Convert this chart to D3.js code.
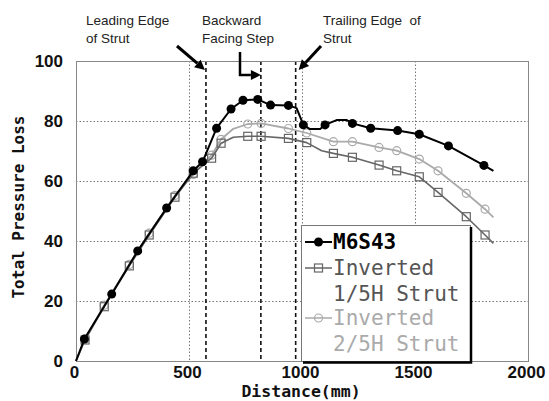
<!DOCTYPE html>
<html><head><meta charset="utf-8">
<script src="https://cdn.jsdelivr.net/npm/d3@7"></script>
<style>
html,body{margin:0;padding:0;background:#fff;}
svg{display:block;}
</style>
</head><body>
<svg id="chart" width="549" height="401"></svg>
<script>
// ---------- data ----------
const xTicks = [0, 500, 1000, 1500, 2000];
const yTicks = [0, 20, 40, 60, 80, 100];
const gridX = [500, 1000, 1500];
const gridY = [20, 40, 60, 80];

// M6S43 (marked = 1 shows a marker)
const m6Dist   = [0, 37, 158, 273, 401, 519, 560, 622, 686, 739, 804, 861, 940, 976, 1006, 1035, 1080, 1102, 1153, 1198, 1223, 1304, 1423, 1519, 1648, 1805, 1847];
const m6Loss   = [0, 7.3, 22.3, 36.7, 51, 63.4, 66.4, 77.6, 84, 86.9, 87.2, 85.3, 85.2, 84.3, 78.7, 77.3, 77.3, 78.7, 80.3, 80.3, 79.2, 77.6, 76.8, 75.6, 71.7, 65.2, 63.4];
const m6Marked = [0, 1, 1, 1, 1, 1, 1, 1, 1, 1, 1, 1, 1, 0, 1, 0, 0, 1, 0, 0, 1, 1, 1, 1, 1, 1, 0];

// Inverted 1/5H Strut
const inv1Dist   = [0, 40, 125, 236, 324, 438, 519, 600, 642, 696, 760, 819, 940, 1021, 1087, 1139, 1223, 1341, 1419, 1519, 1602, 1727, 1810, 1847];
const inv1Loss   = [0, 7, 18.1, 31.7, 42, 54.6, 62.6, 67.6, 72.6, 74.6, 74.9, 74.9, 74.2, 72.8, 70.1, 69.2, 67.9, 65.3, 63.4, 61.4, 56.2, 48.1, 42, 39.2];
const inv1Marked = [0, 1, 1, 1, 1, 1, 1, 1, 1, 0, 1, 1, 1, 1, 0, 1, 1, 1, 1, 1, 1, 1, 1, 0];

// Inverted 2/5H Strut
const inv2Dist   = [0, 40, 125, 236, 324, 438, 519, 600, 642, 696, 760, 819, 940, 1021, 1139, 1223, 1341, 1419, 1519, 1602, 1727, 1810, 1847];
const inv2Loss   = [0, 7.3, 18.6, 32.2, 42.6, 55.2, 62.2, 68.6, 73.9, 77.4, 79, 79.2, 77.5, 76, 73.1, 73.1, 71.2, 70.1, 67.3, 63.4, 55.9, 50.6, 47.9];
const inv2Marked = [0, 1, 1, 1, 1, 1, 1, 1, 1, 0, 1, 1, 1, 1, 1, 1, 1, 1, 1, 1, 1, 1, 0];

const legendLabels = [["M6S43"], ["Inverted", "1/5H Strut"], ["Inverted", "2/5H Strut"]];

// annotation positions (mm) of the vertical dashed markers
const edgeNames = ["Leading Edge", "Backward Step", "Trailing Edge"];
const edgeDist  = [575, 818, 972];

// ---------- chart ----------
const svg = d3.select("#chart");
const x = d3.scaleLinear().domain([0, 2000]).range([76, 528]);
const y = d3.scaleLinear().domain([0, 100]).range([361, 61]);

// gridlines
const g = svg.append("g");
g.selectAll(".gx").data(gridX).enter().append("line")
  .attr("x1", d => x(d) + 0.5).attr("x2", d => x(d) + 0.5)
  .attr("y1", y(100)).attr("y2", y(0))
  .attr("stroke", "#777").attr("stroke-width", 1).attr("stroke-dasharray", "1.5,2");
g.selectAll(".gy").data(gridY).enter().append("line")
  .attr("x1", x(0)).attr("x2", x(2000))
  .attr("y1", d => y(d) + 0.5).attr("y2", d => y(d) + 0.5)
  .attr("stroke", "#777").attr("stroke-width", 1).attr("stroke-dasharray", "1.5,2");

// dashed edge lines
g.selectAll(".edge").data(edgeDist).enter().append("line")
  .attr("x1", d => x(d)).attr("x2", d => x(d))
  .attr("y1", y(100)).attr("y2", y(0))
  .attr("stroke", "#111").attr("stroke-width", 1.6).attr("stroke-dasharray", "4,3");

// frame
svg.append("rect")
  .attr("x", x(0) + 0.5).attr("y", y(100) + 0.5)
  .attr("width", x(2000) - x(0)).attr("height", y(0) - y(100))
  .attr("fill", "none").attr("stroke", "#888").attr("stroke-width", 1);

// axes
const xAxis = svg.append("g").attr("transform", `translate(0,${y(0)})`)
  .call(d3.axisBottom(x).tickValues(xTicks).tickSize(0).tickFormat(d3.format("d")));
xAxis.select(".domain").remove();
xAxis.selectAll("text").attr("y", 17).attr("dy", 0).attr("dx", -2)
  .style("font-family", "'Liberation Sans', Arial, sans-serif")
  .style("font-weight", "bold").style("font-size", "17px").attr("fill", "#111");

const yAxis = svg.append("g").attr("transform", `translate(${x(0)},0)`)
  .call(d3.axisLeft(y).tickValues(yTicks).tickSize(0).tickPadding(13).tickFormat(d3.format("d")));
yAxis.select(".domain").remove();
yAxis.selectAll("text")
  .style("font-family", "'Liberation Sans', Arial, sans-serif")
  .style("font-weight", "bold").style("font-size", "17px").attr("fill", "#111");

// axis titles
svg.append("text").attr("x", 301).attr("y", 397).attr("text-anchor", "middle")
  .style("font-family", "'DejaVu Sans Mono', monospace").style("font-weight", "bold")
  .style("font-size", "16.5px").attr("fill", "#111").text("Distance(mm)");
svg.append("text").attr("transform", "translate(24,207) rotate(-90)").attr("text-anchor", "middle")
  .style("font-family", "'DejaVu Sans Mono', monospace").style("font-weight", "bold")
  .style("font-size", "16px").attr("fill", "#111").text("Total Pressure Loss");

// series
function zip(d, l, m) { return d.map((v, i) => ({x: v, y: l[i], m: m[i]})); }
const series = [
  {data: zip(m6Dist, m6Loss, m6Marked), color: "#000", width: 2, marker: "dot"},
  {data: zip(inv1Dist, inv1Loss, inv1Marked), color: "#666", width: 1.6, marker: "square"},
  {data: zip(inv2Dist, inv2Loss, inv2Marked), color: "#aaa", width: 1.8, marker: "circle"}
];
const line = d3.line().x(d => x(d.x)).y(d => y(d.y));

function drawMarker(sel, s, cx, cy) {
  if (s.marker === "dot") {
    sel.append("circle").attr("cx", cx).attr("cy", cy).attr("r", 4.5).attr("fill", "#000");
  } else if (s.marker === "square") {
    sel.append("rect").attr("x", cx - 4).attr("y", cy - 4).attr("width", 8).attr("height", 8)
      .attr("fill", "none").attr("stroke", s.color).attr("stroke-width", 1.2);
  } else {
    sel.append("circle").attr("cx", cx).attr("cy", cy).attr("r", 4)
      .attr("fill", "none").attr("stroke", s.color).attr("stroke-width", 1.2);
  }
}

[series[2], series[1], series[0]].forEach(s => {
  const sg = svg.append("g");
  sg.append("path").datum(s.data).attr("d", line)
    .attr("fill", "none").attr("stroke", s.color).attr("stroke-width", s.width)
    .attr("stroke-linejoin", "round");
  s.data.filter(d => d.m).forEach(d => drawMarker(sg, s, x(d.x), y(d.y)));
});

// legend
const lg = svg.append("g");
lg.append("rect").attr("x", 301.5).attr("y", 225.5).attr("width", 169).attr("height", 136)
  .attr("fill", "#fff").attr("stroke", "#777").attr("stroke-width", 1);
lg.append("path").attr("d", "M471,227V362.5H303").attr("fill", "none").attr("stroke", "#000").attr("stroke-width", 2.5);
const legRows = [242, 268, 318];
const textColors = ["#000", "#555", "#aaa"];
series.forEach((s, i) => {
  const ly = legRows[i];
  lg.append("line").attr("x1", 305).attr("x2", 332).attr("y1", ly).attr("y2", ly)
    .attr("stroke", s.color).attr("stroke-width", i === 0 ? 2 : 1.5);
  drawMarker(lg, s, 318.5, ly);
  legendLabels[i].forEach((t, j) => {
    lg.append("text").attr("x", 333).attr("y", ly + 7 + j * 26)
      .style("font-family", "'DejaVu Sans Mono', monospace")
      .style("font-weight", i === 0 ? "bold" : "normal")
      .style("font-size", "21px").attr("fill", textColors[i]).text(t);
  });
});

// annotations
const annText = [
  {x: 86, lines: ["Leading Edge", "of Strut"]},
  {x: 202, lines: ["Backward", "Facing Step"]},
  {x: 323, lines: ["Trailing Edge  of", "Strut"]}
];
annText.forEach(a => {
  a.lines.forEach((t, j) => {
    svg.append("text").attr("x", a.x).attr("y", 25 + j * 18).attr("xml:space", "preserve")
      .style("font-family", "'Liberation Sans', Arial, sans-serif")
      .style("font-size", "13.5px").attr("fill", "#222").text(t);
  });
});

function arrowHead(tipX, tipY, fromX, fromY) {
  const ang = Math.atan2(tipY - fromY, tipX - fromX);
  const L = 10, W = 5;
  const bx = tipX - L * Math.cos(ang), by = tipY - L * Math.sin(ang);
  const px = -Math.sin(ang) * W, py = Math.cos(ang) * W;
  svg.append("path").attr("d", `M${tipX},${tipY}L${bx + px},${by + py}L${bx - px},${by - py}Z`).attr("fill", "#000");
  return [bx, by];
}
// leading edge arrow
{
  const tx = x(edgeDist[0]) - 1, ty = y(97);
  const [bx, by] = arrowHead(tx, ty, 177, 46);
  svg.append("line").attr("x1", 177).attr("y1", 46).attr("x2", bx).attr("y2", by)
    .attr("stroke", "#000").attr("stroke-width", 3);
}
// backward step arrow
{
  const tx = x(edgeDist[1]), ty = 75;
  const [bx, by] = arrowHead(tx, ty, 240, ty);
  svg.append("path").attr("d", `M240,52V${ty}H${bx}`).attr("fill", "none")
    .attr("stroke", "#000").attr("stroke-width", 2.5);
}
// trailing edge arrow
{
  const tx = x(edgeDist[2]) + 3, ty = y(97);
  const [bx, by] = arrowHead(tx, ty, 321, 46);
  svg.append("line").attr("x1", 321).attr("y1", 46).attr("x2", bx).attr("y2", by)
    .attr("stroke", "#000").attr("stroke-width", 3);
}
</script>
</body></html>
